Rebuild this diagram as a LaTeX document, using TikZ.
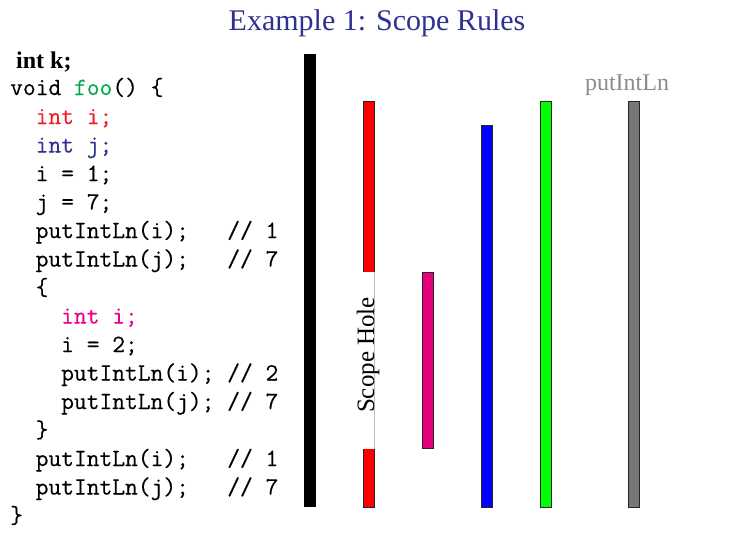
\documentclass[tikz,border=0pt]{standalone}
\usepackage{fontspec}
\setmainfont{Liberation Serif}
\newfontfamily\codefont{Latin Modern Mono}[FakeBold=0.4]
\definecolor{titleblue}{HTML}{2E3192}
\definecolor{codered}{HTML}{ED1C24}
\definecolor{codegreen}{HTML}{00A651}
\definecolor{codemag}{HTML}{EC008C}
\definecolor{barred}{HTML}{FF0000}
\definecolor{bargreen}{HTML}{00FF00}
\definecolor{barblue}{HTML}{0000FF}
\definecolor{barmag}{HTML}{E6007E}
\definecolor{bargray}{HTML}{777777}
\definecolor{labelgray}{HTML}{8C8C8C}
\begin{document}
\begin{tikzpicture}[x=1pt,y=-1pt,
  code/.style={anchor=base west,inner sep=0pt,font=\fontsize{24.8}{28}\selectfont\codefont},
  bar/.style={draw=black!85,line width=1pt},
  serif24/.style={inner sep=0pt,font=\fontsize{24}{28}\selectfont}]
\useasboundingbox (0,0) rectangle (733,549);
% title
\node[anchor=base,inner sep=0pt,font=\fontsize{30}{34}\selectfont,text=titleblue] (title) at (377,30) {Example 1: Scope Rules};
% code
\node[serif24,anchor=base west,font=\fontsize{24}{28}\selectfont\bfseries] (k) at (16,68) {int k;};
\node[code] (l1) at (10,95) {void \textcolor{codegreen}{foo}() \{};
\node[code,text=codered] (l2) at (35.5,124) {int i;};
\node[code,text=titleblue] (l3) at (35.5,152.5) {int j;};
\node[code] (l4) at (35.5,181) {i = 1;};
\node[code] (l5) at (35.5,209.5) {j = 7;};
\node[code] (l6) at (35.5,238) {putIntLn(i);\ \ \ // 1};
\node[code] (l7) at (35.5,266.5) {putIntLn(j);\ \ \ // 7};
\node[code] (l8) at (35.5,295) {\{};
\node[code,text=codemag] (l9) at (61,323.5) {int i;};
\node[code] (l10) at (61,352) {i = 2;};
\node[code] (l11) at (61,380.5) {putIntLn(i); // 2};
\node[code] (l12) at (61,409) {putIntLn(j); // 7};
\node[code] (l13) at (35.5,437.5) {\}};
\node[code] (l14) at (35.5,466) {putIntLn(i);\ \ \ // 1};
\node[code] (l15) at (35.5,494.5) {putIntLn(j);\ \ \ // 7};
\node[code] (l16) at (10,523) {\}};
% bars
\fill[black] (304,54) rectangle (316,507);
\draw[bar,fill=barred] (363.5,101.5) rectangle (374.5,507);
\fill[white] (363,271.5) rectangle (374,448.5);
\draw[black!25,line width=0.8pt] (374.3,271.5) -- (374.3,448.5);
\node[serif24,anchor=base,rotate=90,font=\fontsize{25}{28}\selectfont] (hole) at (374,355) {Scope Hole};
\draw[bar,fill=barmag] (422.5,272.5) rectangle (433,448);
\draw[bar,fill=barblue] (481,125) rectangle (492,507);
\draw[bar,fill=bargreen] (540,101.5) rectangle (551,507);
\draw[bar,fill=bargray] (628,101.5) rectangle (639,507);
\node[serif24,anchor=base,text=labelgray] (pil) at (627,90) {putIntLn};
\end{tikzpicture}
\end{document}
